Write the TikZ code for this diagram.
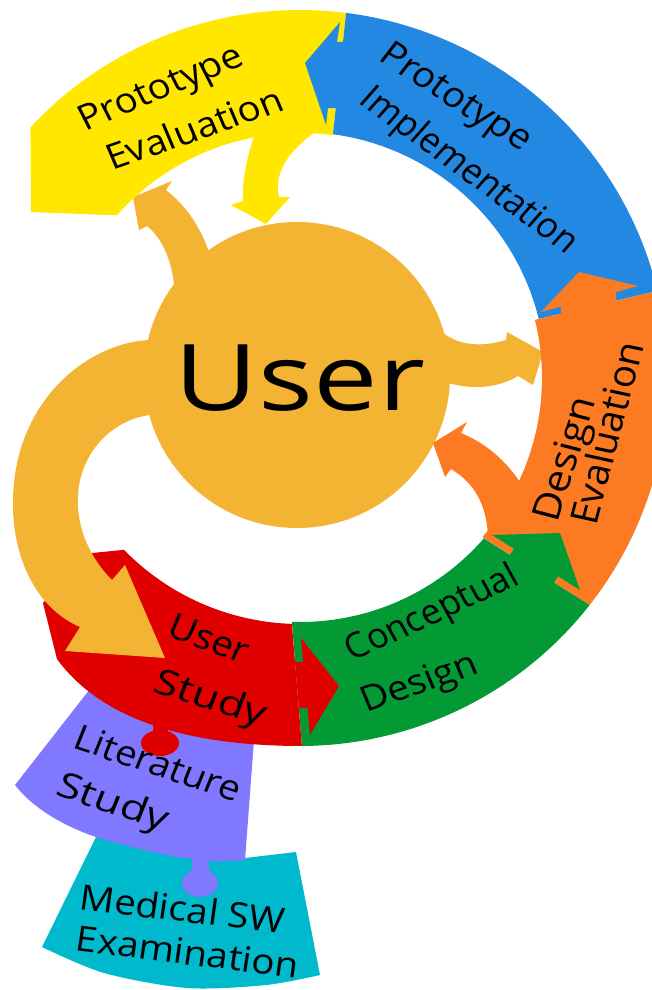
\documentclass[tikz,border=0pt]{standalone}
\usepackage{fontspec}
\setmainfont{Open Sans}
\usetikzlibrary{calc}
\definecolor{cYel}{HTML}{FFE700}
\definecolor{cBlue}{HTML}{2388E1}
\definecolor{cOra}{HTML}{FB7A22}
\definecolor{cGrn}{HTML}{039A36}
\definecolor{cRed}{HTML}{E10000}
\definecolor{cGold}{HTML}{F4B433}
\definecolor{cPur}{HTML}{8078FF}
\definecolor{cCyan}{HTML}{00B9CC}
\begin{document}
\begin{tikzpicture}[x=1pt,y=-1pt,
  lbl/.style={font=\fontsize{35}{40}\selectfont, inner sep=0pt, text height=25pt, text depth=8pt, xscale=1.1}]
\useasboundingbox (0,0) rectangle (652,990);
\clip (0,0) rectangle (652,990);
\coordinate (O) at (300,378);
% puzzle pieces
\fill[cCyan] (96,837) -- (245,858) -- (296,852) -- (320,975) -- plot[smooth] coordinates {(320,975) (266,985) (187,988) (104,973) (42,947)} -- cycle;
\fill[cPur] (90,689) -- (15,785) .. controls (30,805) and (60,825) .. (96,837) .. controls (140,850) and (200,866) .. (245,860) -- (254,740) -- cycle;
\fill[cPur] (200,883) ellipse [x radius=18, y radius=14];
\fill[cPur] (192,855) rectangle (209,872);
% gold arrows and circle
\fill[cGold] (133,197) -- (172,181) -- (166,190) .. controls (185,205) and (200,225) .. (210,255) -- (175,300) .. controls (175,270) and (165,240) .. (147,226) -- (139,230) -- cycle;
\fill[cGold] (440,330) .. controls (455,345) and (480,348) .. (506,340) -- (507,332) -- (543,352) -- (533,385) -- (518,376) .. controls (495,390) and (465,390) .. (440,380) -- cycle;
\fill[cGold] (297,375) circle [radius=153];
% yellow
\fill[cYel] (31,212) -- ($(O)+(222.9:368)$) arc[start angle=222.9, end angle=277.2, radius=368] -- ($(O)+(277.7:245)$) arc[start angle=277.7, end angle=221.6, radius=245] -- cycle;
\fill[cYel] (258,125) .. controls (245,160) and (242,185) .. (243,201) -- (231,205) -- (266,224) -- (290,197) -- (279,197) .. controls (274,175) and (285,150) .. (326,125) -- cycle;
% blue
\fill[cBlue] ($(O)+(277.2:368)$) arc[start angle=277.2, end angle=346.3, radius=368] -- ($(O)+(346.1:246)$) arc[start angle=346.1, end angle=277.7, radius=246] -- cycle;
% orange
\fill[cOra] ($(O)+(346.3:368)$) arc[start angle=346.3, end angle=398.1, radius=368] -- ($(O)+(401.1:242)$) arc[start angle=401.1, end angle=346.1, radius=242] -- cycle;
\fill[cOra] (433,443) -- (467,422) -- (461,433) .. controls (490,445) and (510,465) .. (525,490) -- (488,537) .. controls (487,510) and (478,485) .. (451,469) -- (445,477) -- cycle;
% green
\fill[cGrn] ($(O)+(38.1:368)$) arc[start angle=38.1, end angle=89.7, radius=368] -- ($(O)+(91.9:244)$) arc[start angle=91.9, end angle=41.1, radius=244] -- cycle;
% red
\fill[cRed] ($(O)+(89.7:368)$) .. controls (200,746) and (105,725) .. (57,659) -- (43,603) -- (92,553) -- ($(O)+(135.7:246)$) arc[start angle=135.7, end angle=91.9, radius=246] -- cycle;
% arrow heads at the cuts
\fill[cBlue] (340,22) -- (305,63) -- (326,125) -- (328,108) -- (337,108) -- (344,42) -- (337,42) -- cycle;
\fill[cOra] (541,312) -- (579,272) -- (638,286) -- (616,292) -- (616,301.5) -- (561,314.5) -- (561,306.6) -- cycle;
\fill[cGrn] (492,535) -- (560,533) -- (580,590) -- (558,576.3) -- (553.7,583) -- (509.7,555.5) -- (514,548.8) -- cycle;
\fill[cRed] (301,638) -- (339,686) -- (310,735) -- (307.5,708) -- (299,708) -- (295,662) -- (303.2,662) -- cycle;
% red knob
\fill[cRed] (160,743) ellipse [x radius=19, y radius=13];
\fill[cRed] (153,724) rectangle (168,734);
% big arrow
\fill[cGold] (150,340) .. controls (90,342) and (10,400) .. (13,510) .. controls (15,565) and (40,610) .. (80,627) -- (65,651) -- (165,658) -- (125,565) -- (112,580) .. controls (92,560) and (76,530) .. (78,495) .. controls (80,455) and (110,420) .. (150,415) -- cycle;
% texts
\node[font=\fontsize{92}{92}\selectfont, xscale=1.25] (user) at (300,378) {User};
\node[lbl, rotate=24.8] (pe1) at (162,90) {Prototype};
\node[lbl, rotate=21] (pe2) at (196,132) {Evaluation};
\node[lbl, rotate=-35] (pi1) at (455,99) {Prototype};
\node[lbl, rotate=-38.6, xscale=0.93] (pi2) at (468,172) {Implementation};
\node[lbl, rotate=74, xscale=1.15] (de1) at (568,460) {Design};
\node[lbl, rotate=76.5, xscale=1.1] (de2) at (611,434) {Evaluation};
\node[lbl, rotate=26.7, xscale=0.93] (cd1) at (433,615) {Conceptual};
\node[lbl, rotate=20.8] (cd2) at (420,685) {Design};
\node[lbl, rotate=-21.8] (us1) at (208,642) {User};
\node[lbl, rotate=-19, xscale=1.15] (us2) at (210,701) {Study};
\node[lbl, rotate=-20] (ls1) at (157,767) {Literature};
\node[lbl, rotate=-20, xscale=1.15] (ls2) at (112,805) {Study};
\node[lbl, rotate=-7.3] (ms1) at (182,913) {Medical SW};
\node[lbl, rotate=-7.6] (ms2) at (187,956) {Examination};
\end{tikzpicture}
\end{document}
